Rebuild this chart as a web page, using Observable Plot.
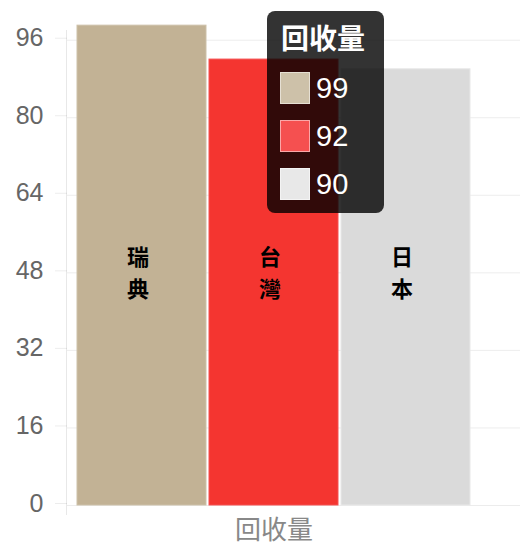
<!DOCTYPE html>
<html><head><meta charset="utf-8">
<script src="https://cdn.jsdelivr.net/npm/d3@7"></script>
<script src="https://cdn.jsdelivr.net/npm/@observablehq/plot@0.6"></script>
<style>
body{margin:0;background:#fff}
#wrap{position:relative;width:520px;height:545px}
#tip{position:absolute;left:267px;top:11px;width:117px;height:202px;border-radius:8px;background:rgba(0,0,0,0.8);color:#fff;box-sizing:border-box}
#tip .title{position:absolute;left:14px;top:7px;font:bold 28px/38px 'Noto Sans CJK TC',sans-serif;white-space:nowrap}
#tip .row{position:absolute;left:13px;height:32px;display:flex;align-items:center}
#tip .sw{width:30px;height:32px;box-sizing:border-box;border:1px solid rgba(255,255,255,0.5)}
#tip .val{margin-left:6px;font:29px 'Liberation Sans',Arial,sans-serif}
</style>
</head><body><div id="wrap"></div>
<script>
const countries = ["瑞典", "台灣", "日本"];
const values = [99, 92, 90];
const barColors = ["#c2b295", "#f43530", "#dadada"];
const swatchColors = ["#cdc1a9", "#f55050", "#e8e8e8"];
const seriesLabel = "回收量";
const yTicks = [0, 16, 32, 48, 64, 80, 96];
const labelValue = 47;

const data = countries.map((c, i) => ({
  country: c, value: values[i], color: barColors[i], edge: swatchColors[i],
  first: c.charAt(0), second: c.charAt(1)
}));

function yAxisLine(index, scales, values, dims) {
  const l = document.createElementNS("http://www.w3.org/2000/svg", "line");
  const x = dims.marginLeft - 0.5;
  l.setAttribute("x1", x); l.setAttribute("x2", x);
  l.setAttribute("y1", dims.marginTop);
  l.setAttribute("y2", dims.height - dims.marginBottom + 10);
  l.setAttribute("stroke", "#000"); l.setAttribute("stroke-opacity", "0.09");
  return l;
}

const labelStyle = {x: "country", y: () => labelValue, fontSize: 22, fontWeight: "bold",
  fill: "#000", fontFamily: "'Noto Sans CJK TC', sans-serif", dx: -4};

const chart = Plot.plot({
  width: 520, height: 545,
  marginLeft: 67, marginRight: 0, marginTop: 30, marginBottom: 40,
  style: {fontFamily: "'Liberation Sans', Arial, sans-serif", background: "#fff", overflow: "visible"},
  x: {domain: countries, range: [77, 470], paddingInner: 0.023, paddingOuter: 0, axis: null},
  y: {domain: [0, 98], axis: null},
  color: {type: "identity"},
  marks: [
    Plot.gridY(yTicks, {stroke: "#000", strokeOpacity: 0.075, strokeWidth: 1}),
    Plot.axisY(yTicks, {tickSize: 12, tickPadding: 12, fontSize: 25, stroke: "#000", strokeOpacity: 0.075, fill: "#666", dy: -2, label: null}),
    yAxisLine,
    Plot.barY(data, {x: "country", y: "value", fill: "color", stroke: "edge", strokeWidth: 1}),
    Plot.text(data, {...labelStyle, text: "first", dy: -20}),
    Plot.text(data, {...labelStyle, text: "second", dy: 12}),
    Plot.text([seriesLabel], {x: () => countries[1], frameAnchor: "bottom", dy: 33, text: d => d,
      fontSize: 26, fill: "#888", fontFamily: "'Noto Sans CJK TC', sans-serif"})
  ]
});

const wrap = document.getElementById("wrap");
wrap.appendChild(chart);

const tip = document.createElement("div");
tip.id = "tip";
const title = document.createElement("div");
title.className = "title";
title.textContent = seriesLabel;
tip.appendChild(title);
values.forEach((v, i) => {
  const row = document.createElement("div");
  row.className = "row";
  row.style.top = (61 + i * 48) + "px";
  const sw = document.createElement("div");
  sw.className = "sw";
  sw.style.background = swatchColors[i];
  const t = document.createElement("span");
  t.className = "val";
  t.textContent = v;
  row.appendChild(sw); row.appendChild(t);
  tip.appendChild(row);
});
wrap.appendChild(tip);
</script>
</body></html>
